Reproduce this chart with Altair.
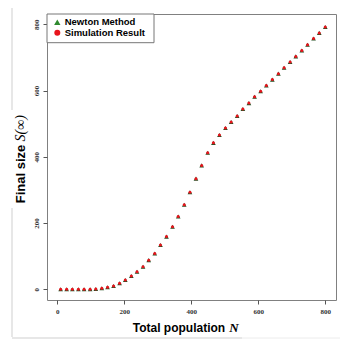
import altair as alt
import pandas as pd

# Total population N
pop_n = [10, 28, 45, 63, 80, 98, 115, 133, 150, 168, 186, 203, 221, 238, 256, 273,
         291, 308, 326, 344, 361, 379, 396, 414, 431, 449, 466, 484, 502, 519, 537,
         554, 572, 589, 607, 624, 642, 660, 677, 695, 712, 730, 747, 765, 782, 800]
# Final size S(inf) - simulation result
sim_size = [0, 0, 0, 0, 0, 0, 1, 3, 6, 10, 18, 28, 40, 53, 68, 88, 108, 134, 159, 189,
            220, 255, 293, 334, 374, 412, 442, 466, 487, 505, 523, 544, 562, 581, 598,
            615, 633, 651, 669, 686, 703, 721, 738, 757, 774, 792]
# Final size S(inf) - Newton method
newton_size = [0, 0, 0, 0, 0, 0, 1, 3, 6, 10, 18, 28, 40, 53, 68, 88, 108, 134, 159, 189,
               220, 255, 293, 334, 374, 412, 442, 466, 487, 505, 523, 544, 562, 581, 598,
               615, 633, 651, 669, 686, 703, 721, 738, 757, 774, 792]
tick_values = [0, 200, 400, 600, 800]
legend_labels = ["Newton Method", "Simulation Result"]
x_title = ["Total population", "N"]
y_title = ["Final size", "S(\u221e)"]

GREEN = "#2f8a2f"
DARK_GREEN = "#234f23"
RED = "#e8141c"

df = pd.DataFrame({"N": pop_n, "sim": sim_size, "newton": newton_size})
one = pd.DataFrame({"k": [0]})

xs = alt.Scale(domain=[-30.7, 832], nice=False, zero=False)
ys = alt.Scale(domain=[-32.3, 831], nice=False, zero=False)

xax = alt.Axis(values=tick_values, title=None, domain=False, grid=False, ticks=True,
               tickSize=4, tickColor="#555555", labelFont="Liberation Serif",
               labelFontSize=7, labelFontWeight="bold", labelColor="#333333",
               labelPadding=3)
yax = alt.Axis(values=tick_values, title=None, domain=False, grid=False, ticks=True,
               tickSize=4, tickColor="#555555", labelFont="Liberation Serif",
               labelFontSize=7, labelFontWeight="bold", labelColor="#333333",
               labelAngle=270, labelAlign="center", labelBaseline="bottom",
               labelPadding=4)

tri = alt.Chart(df).mark_point(shape="triangle-up", filled=True, size=22,
                               color=DARK_GREEN, opacity=1).encode(
    x=alt.X("N:Q", scale=xs, axis=xax),
    y=alt.Y("newton:Q", scale=ys, axis=yax),
)
circ = alt.Chart(df).mark_point(shape="circle", filled=True, size=9,
                                color=RED, opacity=1).encode(
    x=alt.X("N:Q", scale=xs),
    y=alt.Y("sim:Q", scale=ys),
)

# legend box
leg_box = alt.Chart(one).mark_rect(fill="white", stroke="#777777", strokeWidth=1).encode(
    x=alt.value(0), x2=alt.value(107), y=alt.value(0), y2=alt.value(28.7))
leg_tri = alt.Chart(one).mark_point(shape="triangle-up", filled=True, size=40,
                                    color=GREEN, opacity=1).encode(
    x=alt.value(10.3), y=alt.value(8.3))
leg_circ = alt.Chart(one).mark_point(shape="circle", filled=True, size=36,
                                     color=RED, opacity=1).encode(
    x=alt.value(10.3), y=alt.value(18.7))
leg_t1 = alt.Chart(one).mark_text(align="left", baseline="middle", font="Liberation Sans",
                                  fontWeight="bold", fontSize=9.5, color="black").encode(
    x=alt.value(17.7), y=alt.value(8.3), text=alt.value(legend_labels[0]))
leg_t2 = alt.Chart(one).mark_text(align="left", baseline="middle", font="Liberation Sans",
                                  fontWeight="bold", fontSize=9.5, color="black").encode(
    x=alt.value(17.7), y=alt.value(18.9), text=alt.value(legend_labels[1]))

# axis titles
xt1 = alt.Chart(one).mark_text(align="left", baseline="alphabetic", font="Liberation Sans",
                               fontWeight="bold", fontSize=12, color="black").encode(
    x=alt.value(85.7), y=alt.value(318), text=alt.value(x_title[0]))
xt2 = alt.Chart(one).mark_text(align="left", baseline="alphabetic", font="Liberation Serif",
                               fontStyle="italic", fontWeight="bold", fontSize=13,
                               color="black").encode(
    x=alt.value(182.3), y=alt.value(318), text=alt.value(x_title[1]))
yt1 = alt.Chart(one).mark_text(align="left", baseline="middle", font="Liberation Sans",
                               fontWeight="bold", fontSize=13, angle=270,
                               color="black").encode(
    x=alt.value(-26), y=alt.value(189.3), text=alt.value(y_title[0]))
yt2 = alt.Chart(one).mark_text(align="left", baseline="middle", font="Liberation Serif",
                               fontStyle="italic", fontSize=14, angle=270,
                               color="black").encode(
    x=alt.value(-26), y=alt.value(127.5), text=alt.value(y_title[1]))

# faint frame lines of the original picture
fr1 = alt.Chart(one).mark_rule(color="#cfcfcf", strokeWidth=1).encode(
    x=alt.value(-35), y=alt.value(-6), y2=alt.value(96))
fr2 = alt.Chart(one).mark_rule(color="#cfcfcf", strokeWidth=1).encode(
    x=alt.value(-35), y=alt.value(194), y2=alt.value(323))
fr3 = alt.Chart(one).mark_rule(color="#cfcfcf", strokeWidth=1).encode(
    x=alt.value(-35), x2=alt.value(195), y=alt.value(324))
fr4 = alt.Chart(one).mark_rule(color="#ececec", strokeWidth=1).encode(
    x=alt.value(195), x2=alt.value(293), y=alt.value(324))

chart = alt.layer(
    tri, circ, leg_box, leg_tri, leg_circ, leg_t1, leg_t2,
    xt1, xt2, yt1, yt2, fr1, fr2, fr3, fr4
).properties(
    width=289, height=286,
    autosize=alt.AutoSizeParams(type="none"),
    padding={"left": 39, "top": 6, "right": 5, "bottom": 40},
    background="white",
).configure_view(stroke="#808080", strokeWidth=1)

chart.save("out.html", embed_options={"renderer": "svg", "actions": False})
